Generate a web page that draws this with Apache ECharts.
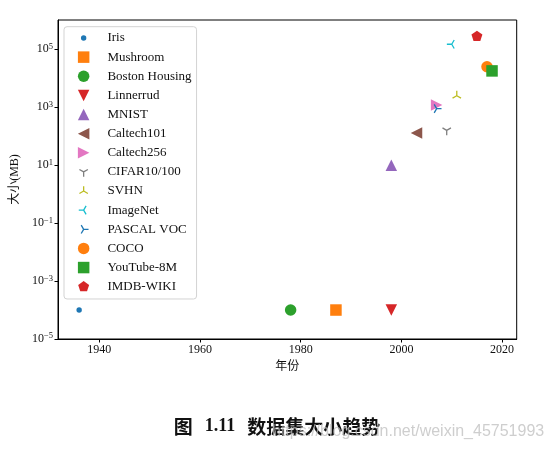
<!DOCTYPE html>
<html>
<head>
<meta charset="utf-8">
<script src="https://cdn.jsdelivr.net/npm/echarts@6/dist/echarts.min.js"></script>
<style>
html,body{margin:0;padding:0;background:#fff;}
#chart{width:554px;height:451px;}
</style>
</head>
<body>
<div id="chart"></div>
<script>
// ---- data ----
const categories = ['Iris','Mushroom','Boston Housing','Linnerrud','MNIST','Caltech101','Caltech256','CIFAR10/100','SVHN','ImageNet','PASCAL VOC','COCO','YouTube-8M','IMDB-WIKI'];
const years      = [1936, 1987, 1978, 1998, 1998, 2003, 2007, 2009, 2011, 2010, 2007, 2017, 2018, 2015];
const sizesMB    = [1e-4, 1e-4, 1e-4, 1e-4, 10, 130, 1200, 160, 2500, 150000, 900, 25000, 18000, 280000];
const yTickValues = [1e-5, 1e-3, 1e-1, 1e1, 1e3, 1e5];
const xTickValues = [1940, 1960, 1980, 2000, 2020];
const xAxisTitle = '年份';
const yAxisTitle = '大小(MB)';

// ---- styles ----
const colors = ['#1f77b4','#ff7f0e','#2ca02c','#d62728','#9467bd','#8c564b','#e377c2','#7f7f7f','#bcbd22','#17becf','#1f77b4','#ff7f0e','#2ca02c','#d62728'];
const EXT = 'M-1,-1M1,1';
const symbols = [
  'path://M-0.47,0A0.47,0.47 0 1 0 0.47,0A0.47,0.47 0 1 0 -0.47,0Z' + EXT,
  'rect',
  'circle',
  'path://M-1,-1L1,-1L0,1Z',
  'path://M0,-1L1,1L-1,1Z',
  'path://M-1,0L1,-1L1,1Z',
  'path://M1,0L-1,-1L-1,1Z',
  'path://M0,0L0,0.85M0,0L-0.736,-0.425M0,0L0.736,-0.425' + EXT,
  'path://M0,0L0,-0.85M0,0L-0.736,0.425M0,0L0.736,0.425' + EXT,
  'path://M0,0L-0.85,0M0,0L0.425,-0.736M0,0L0.425,0.736' + EXT,
  'path://M0,0L0.85,0M0,0L-0.425,-0.736M0,0L-0.425,0.736' + EXT,
  'circle',
  'rect',
  'path://M0,-1L0.951,-0.309L0.588,0.809L-0.588,0.809L-0.951,-0.309Z' + EXT
];
const isLineMarker = [false,false,false,false,false,false,false,true,true,true,true,false,false,false];
const SERIF = "'Liberation Serif', 'Noto Sans CJK SC', serif";
const MS = 11.5;

const series = categories.map((name, i) => ({
  name: name,
  type: 'scatter',
  data: [[years[i], sizesMB[i]]],
  symbol: symbols[i],
  symbolSize: MS,
  itemStyle: isLineMarker[i]
    ? { color: colors[i], borderColor: colors[i], borderWidth: 1.3, opacity: 1 }
    : { color: colors[i], opacity: 1 },
  emphasis: { disabled: true },
  animation: false
}));

function supLabel(v) {
  const e = Math.round(Math.log10(v));
  return '{b|10}{s|' + (e < 0 ? '\u2212' : '') + Math.abs(e) + '}';
}

const chart = echarts.init(document.getElementById('chart'), null, { renderer: 'canvas' });
chart.setOption({
  backgroundColor: '#ffffff',
  animation: false,
  grid: {
    left: 58, top: 20, right: 37.3, bottom: 112,
    show: true, borderColor: '#000', borderWidth: 1, backgroundColor: 'transparent'
  },
  xAxis: {
    type: 'value',
    min: 1931.8, max: 2022.9,
    name: xAxisTitle, nameLocation: 'middle', nameGap: 20,
    nameTextStyle: { fontSize: 12, fontFamily: SERIF, color: '#111' },
    axisLine: { show: true, lineStyle: { color: '#000', width: 1 } },
    axisTick: { show: true, length: 3.5, lineStyle: { color: '#000' }, customValues: xTickValues },
    axisLabel: { show: true, margin: 5, fontSize: 12, fontFamily: SERIF, color: '#111',
      customValues: xTickValues, formatter: v => String(v) },
    splitLine: { show: false }
  },
  yAxis: {
    type: 'log', logBase: 10,
    min: 1e-5, max: 1.03e6,
    name: yAxisTitle, nameLocation: 'middle', nameGap: 36,
    nameTextStyle: { fontSize: 12, fontFamily: SERIF, color: '#111' },
    axisLine: { show: true, lineStyle: { color: '#000', width: 1 } },
    axisTick: { show: true, length: 3.5, lineStyle: { color: '#000' }, customValues: yTickValues },
    axisLabel: { show: true, margin: 5, customValues: yTickValues, formatter: supLabel,
      rich: {
        b: { fontSize: 12, fontFamily: SERIF, color: '#111', lineHeight: 14 },
        s: { fontSize: 8.5, fontFamily: SERIF, color: '#111', verticalAlign: 'top', lineHeight: 9 }
      } },
    splitLine: { show: false }
  },
  legend: {
    orient: 'vertical',
    left: 64, top: 26.7,
    padding: [4.3, 5, 5.3, 13.25],
    itemGap: 5.13,
    itemWidth: MS, itemHeight: MS,
    backgroundColor: 'rgba(255,255,255,0.8)',
    borderColor: '#d3d3d3', borderWidth: 1, borderRadius: 3,
    selectedMode: false,
    textStyle: { fontSize: 13, fontFamily: SERIF, color: '#111', lineHeight: 14, padding: [0, 0, 0, 13] },
    data: categories.map((n, i) => ({ name: n, itemStyle: { borderWidth: isLineMarker[i] ? 1.3 : 0 } }))
  },
  title: {
    text: '{a|图}{b|1.11}{a|数据集大小趋势}',
    left: 'center', top: 412,
    textStyle: {
      rich: {
        a: { fontSize: 19, fontFamily: "'Noto Sans CJK SC', sans-serif", color: '#111' },
        b: { fontSize: 18, fontFamily: "'Liberation Serif', serif", color: '#111', padding: [0, 12, 0, 12] }
      }
    }
  },
  graphic: [{
    type: 'text', left: 272, top: 424, silent: true, z: 100,
    style: { text: 'https://blog.csdn.net/weixin_45751993', font: '16px "Liberation Sans", sans-serif', fill: 'rgba(190,190,190,0.75)' }
  }],
  series: series
});
</script>
</body>
</html>
